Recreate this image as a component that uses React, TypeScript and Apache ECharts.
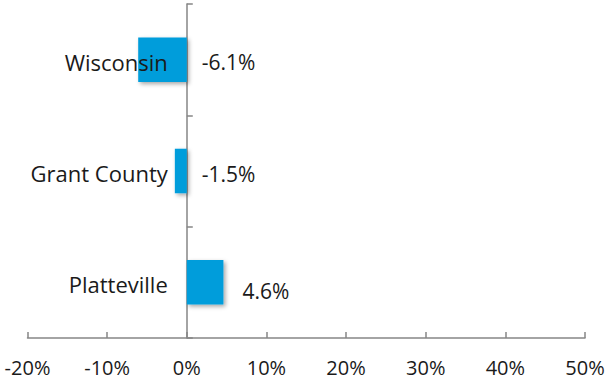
import React, { useEffect, useRef } from "react";
import * as echarts from "echarts";

const categories: string[] = ["Wisconsin", "Grant County", "Platteville"];
const changeValues: number[] = [-6.1, -1.5, 4.6];
const xMin = -20;
const xMax = 50;
const xInterval = 10;

const FONT = "'Open Sans', 'DejaVu Sans', sans-serif";
const TEXT_COLOR = "#1a1a1a";
const AXIS_COLOR = "#868686";
const BAR_COLOR = "#009ddb";

export default function App() {
  const ref = useRef<HTMLDivElement | null>(null);

  useEffect(() => {
    if (!ref.current) return;
    const chart = echarts.init(ref.current, null, { renderer: "svg" });
    const labelOffsets: number[][] = [[0, 2], [0, 3], [0, 9]];
    const option: any = {
      animation: false,
      backgroundColor: "#ffffff",
      grid: {
        left: 27.5,
        right: 20,
        top: 4,
        bottom: 43,
        containLabel: false,
        outerBoundsMode: "none",
      },
      xAxis: {
        type: "value",
        min: xMin,
        max: xMax,
        interval: xInterval,
        splitLine: { show: false },
        axisLine: { show: true, lineStyle: { color: AXIS_COLOR, width: 1.5 } },
        axisTick: { show: true, inside: true, length: 6, lineStyle: { color: AXIS_COLOR, width: 1.5 } },
        axisLabel: {
          formatter: "{value}%",
          fontFamily: FONT,
          fontSize: 20,
          color: TEXT_COLOR,
          margin: 19,
        },
      },
      yAxis: {
        type: "category",
        data: categories,
        inverse: true,
        axisLine: { show: true, onZero: true, lineStyle: { color: AXIS_COLOR, width: 1.5 } },
        axisTick: { show: true, inside: true, length: 6, lineStyle: { color: AXIS_COLOR, width: 1.5 } },
        splitLine: { show: false },
        axisLabel: { show: false },
      },
      series: [
        {
          type: "bar",
          data: changeValues,
          barWidth: "40%",
          itemStyle: {
            color: BAR_COLOR,
            shadowBlur: 4,
            shadowOffsetX: 2,
            shadowOffsetY: 2,
            shadowColor: "rgba(0,0,0,0.35)",
          },
          label: { show: false },
          silent: true,
        },
        {
          type: "scatter",
          symbolSize: 0,
          silent: true,
          z: 5,
          itemStyle: { opacity: 1 },
          data: categories.map((c) => ({
            value: [0, c],
            label: {
              show: true,
              position: "left",
              distance: 19,
              offset: [0, 2],
              formatter: () => c,
              fontFamily: FONT,
              fontSize: 22,
              color: TEXT_COLOR,
              opacity: 1,
            },
          })),
        },
        {
          type: "scatter",
          symbolSize: 0,
          silent: true,
          z: 5,
          itemStyle: { opacity: 1 },
          data: changeValues.map((v, i) => ({
            value: [Math.max(v, 0), categories[i]],
            label: {
              show: true,
              position: "right",
              distance: v < 0 ? 15 : 19,
              offset: labelOffsets[i],
              formatter: () => `${v.toFixed(1)}%`,
              fontFamily: FONT,
              fontSize: 21,
              color: TEXT_COLOR,
              opacity: 1,
            },
          })),
        },
      ],
    };
    chart.setOption(option);
    return () => chart.dispose();
  }, []);

  return (
    <div
      ref={ref}
      style={{ position: "fixed", left: 0, top: 0, width: 605, height: 381 }}
    />
  );
}
